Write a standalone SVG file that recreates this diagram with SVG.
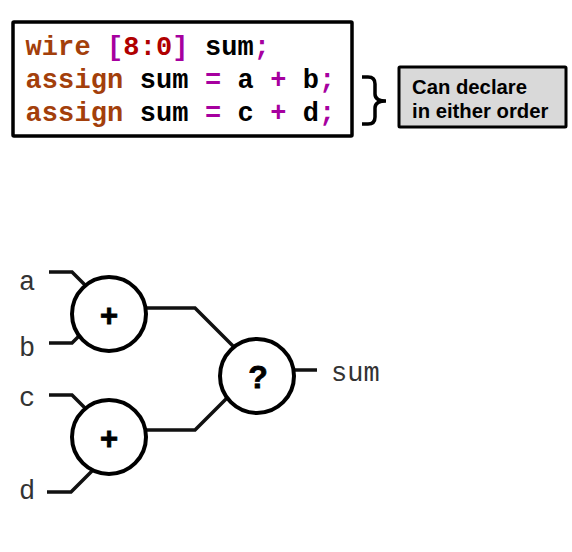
<svg xmlns="http://www.w3.org/2000/svg" width="572" height="552" viewBox="0 0 572 552">
<style>
.code{font-family:"Liberation Mono",monospace;font-weight:bold;font-size:27px;letter-spacing:.1px;white-space:pre}
.k{fill:#a33f0b}.p{fill:#a6009f}.n{fill:#b00000}.t{fill:#000}
.lbl{font-family:"Liberation Mono",monospace;font-size:27px;fill:#333}
.w{fill:none;stroke:#111;stroke-width:3.5}
.c{fill:#fff;stroke:#000;stroke-width:4}
.op{font-family:"Liberation Sans",sans-serif;font-weight:bold;text-anchor:middle;fill:#000;stroke:#000;stroke-width:.8}
.note{font-family:"Liberation Sans",sans-serif;font-weight:bold;font-size:20.3px;fill:#000}
</style>
<rect width="572" height="552" fill="#fff"/>
<g id="code">
<rect x="13" y="22" width="339" height="114" fill="#fff" stroke="#000" stroke-width="3.5" rx="1"/>
<text class="code" x="25.5" y="55"><tspan class="k">wire</tspan> <tspan class="p">[</tspan><tspan class="n">8:0</tspan><tspan class="p">]</tspan> <tspan class="t">sum</tspan><tspan class="p">;</tspan></text>
<text class="code" x="25.5" y="88"><tspan class="k">assign</tspan> <tspan class="t">sum</tspan> <tspan class="p">=</tspan> <tspan class="t">a</tspan> <tspan class="p">+</tspan> <tspan class="t">b</tspan><tspan class="p">;</tspan></text>
<text class="code" x="25.5" y="121"><tspan class="k">assign</tspan> <tspan class="t">sum</tspan> <tspan class="p">=</tspan> <tspan class="t">c</tspan> <tspan class="p">+</tspan> <tspan class="t">d</tspan><tspan class="p">;</tspan></text>
</g>
<g id="brace">
<path d="M362 77H368Q375 77 375 84V94Q375 101 386 101Q375 101 375 108V117Q375 124 368 124H362" fill="none" stroke="#000" stroke-width="3.5"/>
</g>
<g id="note">
<rect x="399" y="67" width="167" height="60" fill="#d9d9d9" stroke="#000" stroke-width="3" rx="1"/>
<text class="note" x="412" y="94">Can declare</text>
<text class="note" x="412" y="118">in either order</text>
</g>
<g id="connectors">
<path class="w" d="M49 272H72L88 288"/>
<path class="w" d="M49 343H72L82 333"/>
<path class="w" d="M49 395H72L88 411"/>
<path class="w" d="M47 492H71L94 469"/>
<path class="w" d="M146 308H195L233 346"/>
<path class="w" d="M146 430H195L229 396"/>
<path class="w" d="M294 370H317"/>
</g>
<g id="add1"><circle class="c" cx="109" cy="314" r="37"/><text class="op" x="109" y="326" font-size="31">+</text></g>
<g id="add2"><circle class="c" cx="109" cy="437" r="37"/><text class="op" x="109" y="449" font-size="31">+</text></g>
<g id="mux"><circle class="c" cx="257" cy="376" r="37"/><text class="op" x="258" y="388" font-size="32">?</text></g>
<g id="labels">
<text class="lbl" x="19" y="290">a</text>
<text class="lbl" x="19" y="356">b</text>
<text class="lbl" x="19" y="406">c</text>
<text class="lbl" x="19" y="499">d</text>
<text class="lbl" x="331" y="381">sum</text>
</g>
</svg>
